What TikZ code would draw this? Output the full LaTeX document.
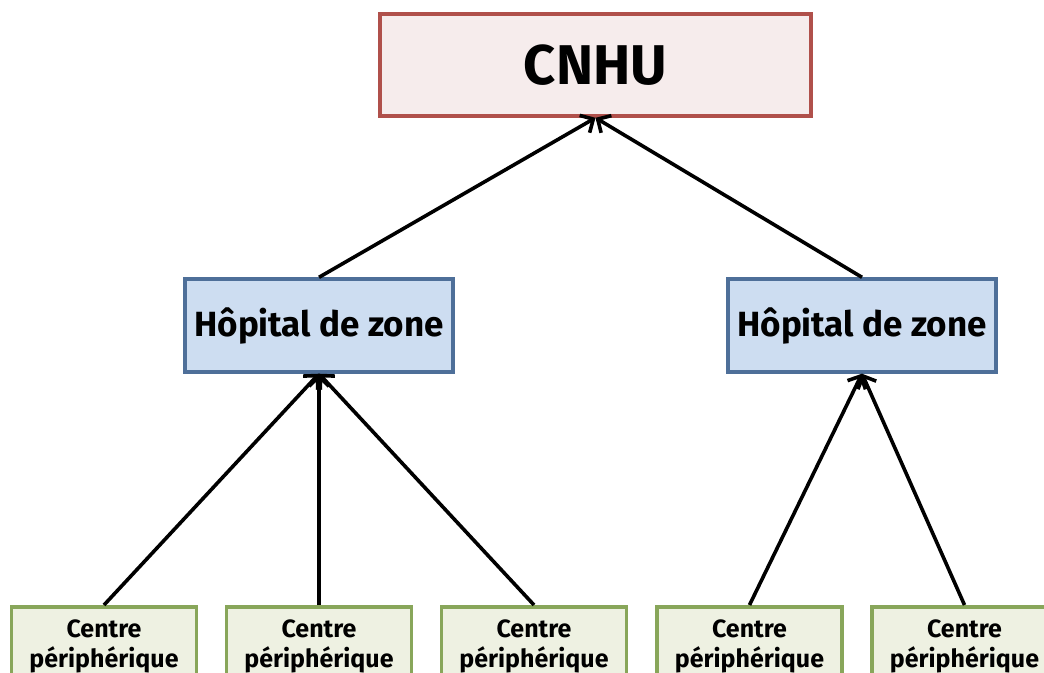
\documentclass[tikz,border=0pt]{standalone}
\usepackage{fontspec}
\setmainfont{Fira Sans}
\usetikzlibrary{arrows.meta}
\definecolor{topfill}{HTML}{F6ECEC}
\definecolor{topdraw}{HTML}{B0504B}
\definecolor{hospfill}{HTML}{CDDDF1}
\definecolor{hospdraw}{HTML}{4E6F99}
\definecolor{cpfill}{HTML}{EEF1E2}
\definecolor{cpdraw}{HTML}{88A65A}
\tikzset{
  topbox/.style={draw=topdraw, fill=topfill, line width=3.6pt, minimum width=431pt, minimum height=102pt, inner sep=0pt,
    font=\fontsize{56}{60}\selectfont\bfseries},
  hospbox/.style={draw=hospdraw, fill=hospfill, line width=3.4pt, minimum width=268pt, minimum height=93pt, inner sep=0pt,
    font=\fontsize{35}{40}\selectfont\bfseries},
  cpbox/.style={draw=cpdraw, fill=cpfill, line width=3.6pt, minimum width=185pt, minimum height=79pt, inner sep=0pt,
    anchor=north, align=center, font=\fontsize{25}{30}\selectfont\bfseries},
  arr/.style={line width=3.6pt, -{Straight Barb[length=10pt,width=20pt,line width=3.6pt]}}
}
\begin{document}
\begin{tikzpicture}[x=1pt,y=-1pt]
\useasboundingbox (0,0) rectangle (1044,672);
\clip (0,0) rectangle (1044,672);
\node[topbox] (cnhu) at (595.5,65) {CNHU};
\node[hospbox] (h1) at (319,325.5) {Hôpital de zone};
\node[hospbox] (h2) at (862,325.5) {Hôpital de zone};
\node[cpbox] (c1) at (104,605) {Centre\\périphérique};
\node[cpbox] (c2) at (319,605) {Centre\\périphérique};
\node[cpbox] (c3) at (534,605) {Centre\\périphérique};
\node[cpbox] (c4) at (749.5,605) {Centre\\périphérique};
\node[cpbox] (c5) at (964.5,605) {Centre\\périphérique};
\draw[arr] (h1.north) -- (cnhu.south);
\draw[arr] (h2.north) -- (cnhu.south);
\draw[arr] (c1.north) -- (h1.south);
\draw[arr] (c2.north) -- (h1.south);
\draw[arr] (c3.north) -- (h1.south);
\draw[arr] (c4.north) -- (h2.south);
\draw[arr] (c5.north) -- (h2.south);
\end{tikzpicture}
\end{document}
